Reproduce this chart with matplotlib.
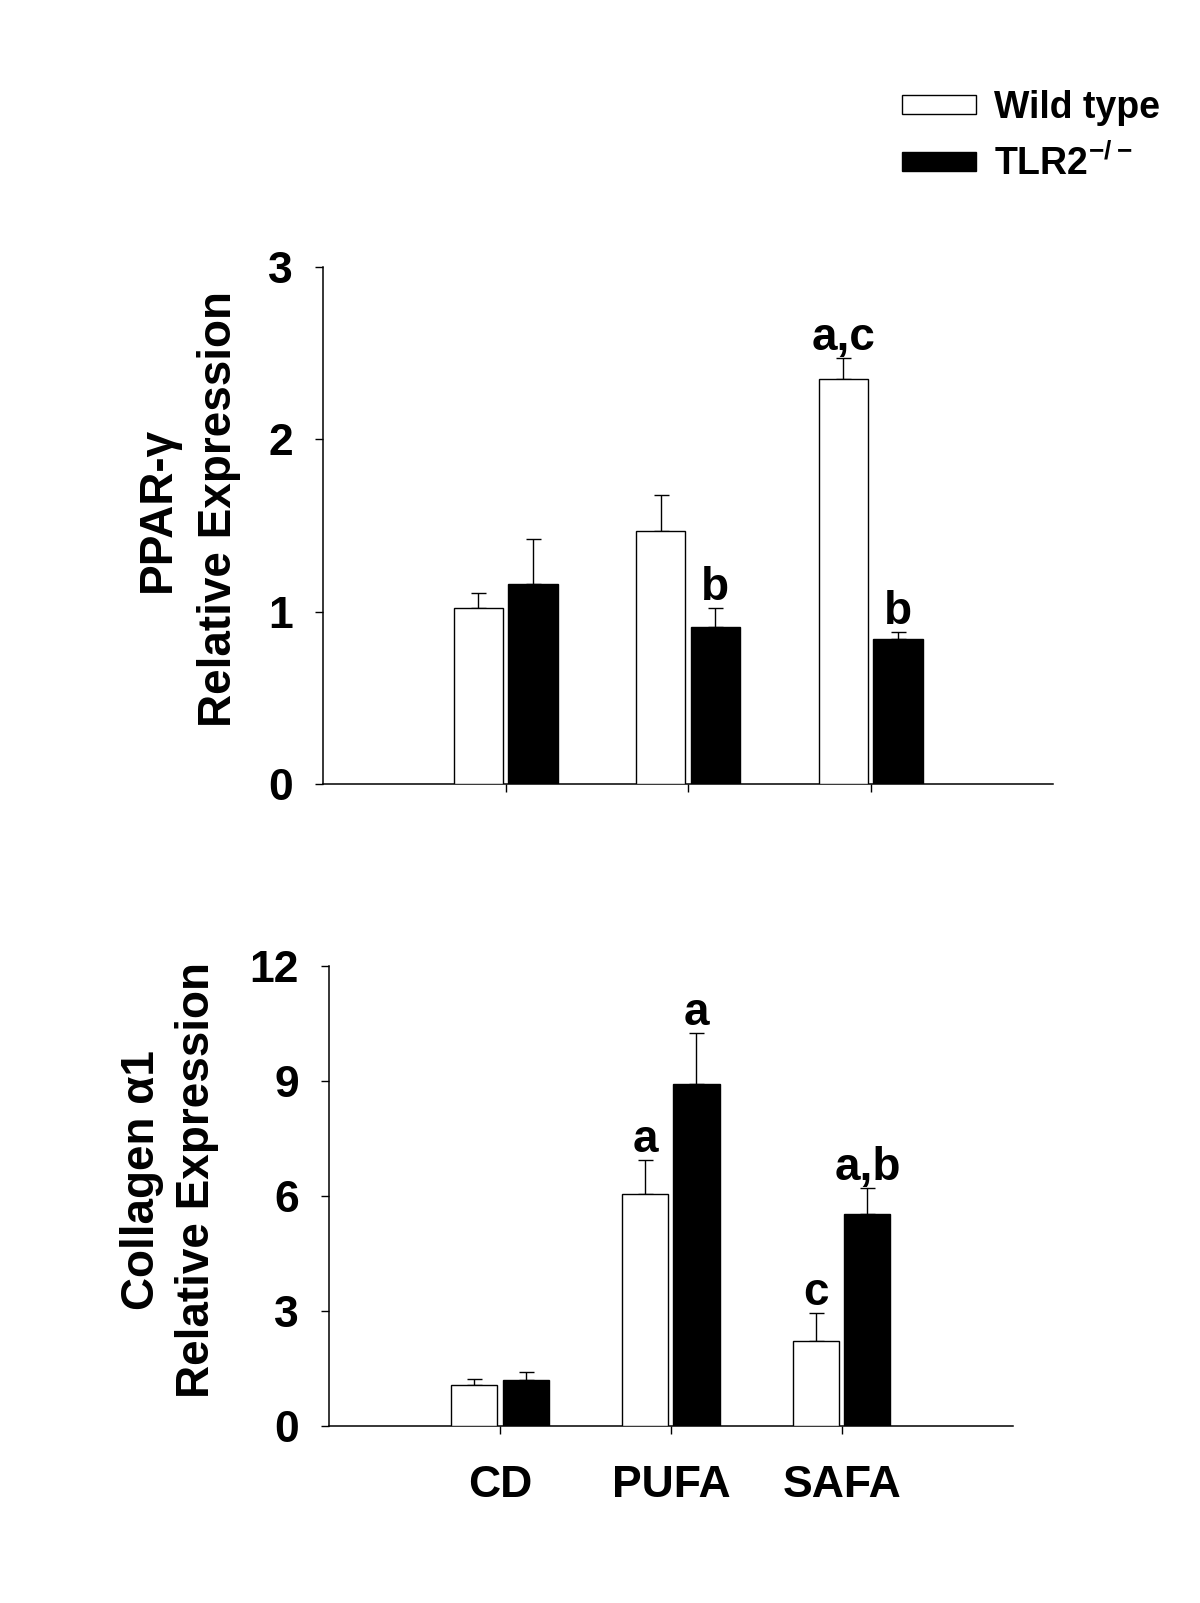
import numpy as np
import matplotlib
matplotlib.use("Agg")
import matplotlib.pyplot as plt

# ---------- data ----------
groups = ["CD", "PUFA", "SAFA"]
labels = ["Wild type", r"TLR2$^{\mathbf{-/-}}$"]

# PPAR-gamma
ppar_wt = [1.02, 1.47, 2.35]
ppar_wt_err = [0.09, 0.21, 0.12]
ppar_ko = [1.16, 0.91, 0.84]
ppar_ko_err = [0.26, 0.11, 0.04]
ppar_wt_sig = ["", "", "a,c"]
ppar_ko_sig = ["", "b", "b"]

# Collagen alpha1
col_wt = [1.06, 6.06, 2.22]
col_wt_err = [0.17, 0.87, 0.72]
col_ko = [1.20, 8.92, 5.52]
col_ko_err = [0.22, 1.33, 0.69]
col_wt_sig = ["", "a", "c"]
col_ko_sig = ["", "a", "a,b"]
# --------------------------

plt.rcParams["font.family"] = ["Liberation Sans", "DejaVu Sans"]
plt.rcParams["font.weight"] = "bold"
plt.rcParams["mathtext.fontset"] = "custom"
plt.rcParams["mathtext.rm"] = "Liberation Sans"
plt.rcParams["mathtext.bf"] = "Liberation Sans:bold"

BAR_W = 0.27
OFF = 0.15


def draw_panel(ax, wt, wt_err, ko, ko_err, wt_sig, ko_sig, ymax, yticks):
    x = np.arange(len(groups))
    handles = []
    for vals, errs, sig, off, face, lab in ((wt, wt_err, wt_sig, -OFF, "white", labels[0]),
                                            (ko, ko_err, ko_sig, OFF, "black", labels[1])):
        h = ax.bar(x + off, vals, BAR_W, color=face, edgecolor="black",
                   linewidth=1.0, zorder=3, label=lab)
        handles.append(h)
        ax.errorbar(x + off, vals, yerr=[np.zeros(len(vals)), errs], fmt="none",
                    ecolor="black", elinewidth=1.0, capsize=5.4, capthick=1.0, zorder=2)
        # significance letters above the error bars
        for xi, v, e, s in zip(x + off, vals, errs, sig):
            if s:
                ax.annotate(s, (xi, v + e), xytext=(0, 6), textcoords="offset points",
                            ha="center", va="baseline", fontsize=33, fontweight="bold")
    ax.set_xlim(-1, 3)
    ax.set_ylim(0, ymax)
    ax.set_yticks(yticks)
    ax.set_xticks(x)
    for s in ("top", "right"):
        ax.spines[s].set_visible(False)
    for s in ("left", "bottom"):
        ax.spines[s].set_linewidth(1.1)
    ax.tick_params(direction="out", length=5.8, width=1.0, labelsize=32)
    ax.tick_params(axis="y", pad=16)
    ax.tick_params(axis="x", pad=22)
    return handles


fig = plt.figure(figsize=(12, 16.03), dpi=100)
ax1 = fig.add_axes([0.2692, 0.5109, 0.6083, 0.3225])
ax2 = fig.add_axes([0.2742, 0.1104, 0.5697, 0.2870])

handles = draw_panel(ax1, ppar_wt, ppar_wt_err, ppar_ko, ppar_ko_err,
                     ppar_wt_sig, ppar_ko_sig, 3, [0, 1, 2, 3])
ax1.set_xticklabels([])
draw_panel(ax2, col_wt, col_wt_err, col_ko, col_ko_err,
           col_wt_sig, col_ko_sig, 12, [0, 3, 6, 9, 12])
ax2.set_xticklabels(groups)

ax1.set_ylabel("PPAR-\u03b3\nRelative Expression", fontsize=33, fontweight="bold",
               linespacing=1.5)
ax1.yaxis.label.set_verticalalignment("center")
ax1.yaxis.set_label_coords(-0.1845, 0.532)

ax2.set_ylabel("Collagen \u03b11\nRelative Expression", fontsize=33, fontweight="bold",
               linespacing=1.33)
ax2.yaxis.label.set_verticalalignment("center")
ax2.yaxis.set_label_coords(-0.233, 0.535)

fig.legend(handles, labels, loc="upper left", bbox_to_anchor=(0.752, 0.944),
           frameon=False, fontsize=27, handlelength=1.95, handleheight=0.4,
           handletextpad=0.5, labelspacing=0.5, borderpad=0, borderaxespad=0)

fig.savefig("out.png", dpi=100)
